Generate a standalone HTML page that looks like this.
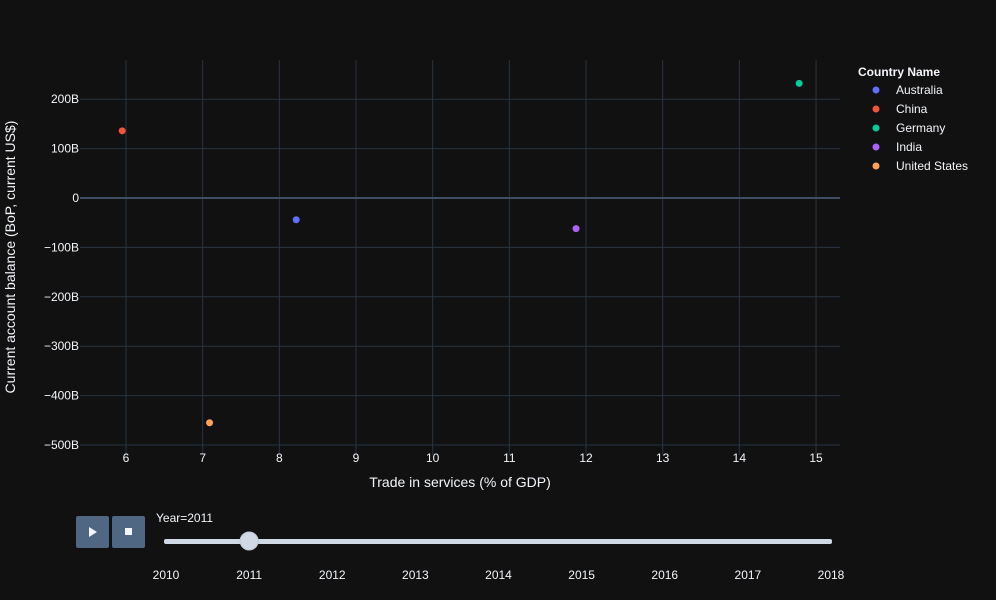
<!DOCTYPE html>
<html><head><meta charset="utf-8"><style>
body{margin:0;background:#111111;}
svg{display:block;font-family:"Liberation Sans",sans-serif;}
</style></head><body>
<svg id="chart" width="996" height="600" xmlns="http://www.w3.org/2000/svg">
<rect width="996" height="600" fill="#111111"/>
<g id="grid"></g>
<g id="marks"></g>
<g id="axes"></g>
<text x="460" y="487" fill="#f2f5fa" font-size="14" text-anchor="middle">Trade in services (% of GDP)</text>
<text transform="translate(15,257) rotate(-90)" fill="#f2f5fa" font-size="14" text-anchor="middle">Current account balance (BoP, current US$)</text>
<g id="legend">
<text x="858" y="76" fill="#f2f5fa" font-size="12" font-weight="bold">Country Name</text>
</g>
<g>
<rect x="76" y="516" width="33" height="32" rx="2" fill="#506784"/>
<path d="M89 527 L97 532 L89 537 Z" fill="#f2f5fa"/>
</g>
<g>
<rect x="112" y="516" width="33" height="32" rx="2" fill="#506784"/>
<rect x="125" y="528" width="7" height="7" fill="#f2f5fa"/>
</g>
<text x="156" y="522" fill="#f2f5fa" font-size="12">Year=2011</text>
<rect x="164" y="539" width="668" height="5" rx="2" fill="#d0d8e6"/>
<g id="slider"></g>
</svg>
<script>
const countries=["Australia","China","Germany","India","United States"];
const tradeServices=[8.22,5.95,14.78,11.87,7.09];
const currentAccount=[-44,136,232,-62,-455];
const colors=["#636efa","#EF553B","#00cc96","#ab63fa","#FFA15A"];
const xTicks=[6,7,8,9,10,11,12,13,14,15];
const yTicks=[200,100,0,-100,-200,-300,-400,-500];
const yTickLabels=["200B","100B","0","−100B","−200B","−300B","−400B","−500B"];
const years=[2010,2011,2012,2013,2014,2015,2016,2017,2018];
const currentYear=2011;
const NS="http://www.w3.org/2000/svg";
const L=80,R=840,T=60,B=455;
const xs=v=>126+(v-6)*76.67;
const ys=v=>198-v*0.494;
function el(tag,attrs,parent){const e=document.createElementNS(NS,tag);for(const k in attrs)e.setAttribute(k,attrs[k]);parent.appendChild(e);return e;}
const grid=document.getElementById('grid'),axes=document.getElementById('axes'),marks=document.getElementById('marks');
xTicks.forEach(t=>{
  const g=el('line',{x1:xs(t),x2:xs(t),y1:T,y2:B,stroke:'#283442','stroke-width':1},grid);
  
  
  const tx=el('text',{x:xs(t),y:B+7,fill:'#f2f5fa','font-size':12,'text-anchor':'middle'},axes);
  tx.textContent=t;
  
  
});
yTicks.forEach((t,i)=>{
  const g=el('line',{x1:L,x2:R,y1:ys(t),y2:ys(t),stroke:t===0?'#3f4f63':'#283442','stroke-width':t===0?2:1},grid);
  
  
  const tx=el('text',{x:L-1,y:ys(t)+4,fill:'#f2f5fa','font-size':12,'text-anchor':'end'},axes);
  tx.textContent=yTickLabels[i];
  
  
});
const legend=document.getElementById('legend');
countries.forEach((c,i)=>{
  const p=el('circle',{cx:xs(tradeServices[i]),cy:ys(currentAccount[i]),r:3.5,fill:colors[i]},marks);
  
  
  const y=90+i*19;
  const g=el('g',{},legend);
  
  
  el('circle',{cx:876,cy:y,r:3.5,fill:colors[i]},g);
  const t=el('text',{x:896,y:y+4,fill:'#f2f5fa','font-size':12},g);
  t.textContent=c;
});
const slider=document.getElementById('slider');
const sx=y=>166+(y-2010)*(831-166)/8;
years.forEach(y=>{
  const t=el('text',{x:sx(y),y:579,fill:'#f2f5fa','font-size':12,'text-anchor':'middle'},slider);
  t.textContent=y;
  
  
});
const knob=el('circle',{cx:sx(currentYear),cy:541,r:9,fill:'#d0d8e6',stroke:'#bec8d9','stroke-width':1},document.getElementById('chart'));


</script>
</body></html>
